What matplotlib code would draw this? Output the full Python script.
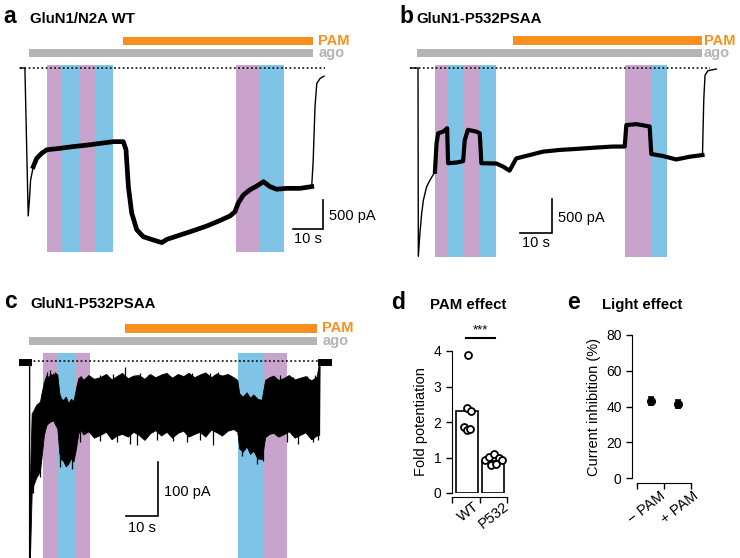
import matplotlib
matplotlib.use("Agg")
import matplotlib.pyplot as plt
import numpy as np

plt.rcParams['font.family'] = ['Liberation Sans', 'DejaVu Sans']

W, H = 740, 558

ORANGE = '#f7901e'
GRAY = '#b4b4b4'
PURPLE = '#c8a3cc'
BLUE = '#7fc3e6'

# ---- panel a: GluN1/N2A WT trace (time s, current pA)
a_t = [-2.3, -0.7, 0.4, 0.8, 1.2, 2.1, 3.2, 4.9, 6.6, 11, 15.4, 19.9, 24.3, 28.8, 32.1,
       33.0, 33.8, 34.9, 36.6, 38.8, 42.1, 44.9, 46.6, 51, 55.4, 59.9, 64.3, 67.7, 69.3,
       70.4, 72.1, 74.3, 76.6, 78.8, 81, 83.2, 86.6, 91, 94.9, 95.4, 96.0, 96.6, 97.7, 99]
a_i = [0, 0, -2550, -2280, -1930, -1700, -1560, -1470, -1410, -1385, -1355, -1330, -1300,
       -1270, -1270, -1410, -2050, -2500, -2790, -2910, -2965, -3010, -2955, -2880, -2805,
       -2725, -2630, -2550, -2480, -2330, -2190, -2100, -2035, -1960, -2045, -2090, -2075,
       -2075, -2045, -1590, -670, -265, -180, -140]
a_pam = (32, 95.3)
a_ago = (0.7, 95.3)
a_light = [(6.7, 11.7, 'p'), (11.7, 17.3, 'b'), (17.3, 23, 'p'), (23, 28.7, 'b'),
           (69.7, 77.7, 'p'), (77.7, 85.7, 'b')]

# ---- panel b: GluN1-P532PSAA trace
b_t = [-2.3, 0.0, 0.1, 0.6, 1.15, 1.7, 2.7, 3.8, 5.3, 5.8, 6.3, 7.9, 9.1, 9.4, 12, 14.1,
       14.6, 15.6, 18.2, 19.3, 19.8, 24.5, 26.6, 28.6, 30.7, 34.9, 39.1, 44.3, 49.5, 55.7,
       60.9, 64.6, 65.1, 68.2, 72.4, 72.9, 76.6, 80.7, 84.9, 88.9, 89.3, 89.7, 90.6, 93.2]
b_i = [0, 0, -2770, -2430, -2135, -1940, -1745, -1645, -1525, -1105, -960, -935, -885,
       -1400, -1390, -1370, -1060, -910, -935, -960, -1400, -1405, -1450, -1510, -1330,
       -1280, -1230, -1205, -1190, -1170, -1155, -1155, -840, -825, -860, -1265, -1295,
       -1345, -1305, -1280, -470, -105, -40, -15]
b_pam = (29.7, 88.75)
b_ago = (-0.3, 88.75)
b_light = [(5.3, 9.4, 'p'), (9.4, 14.1, 'b'), (14.1, 19.4, 'p'), (19.4, 24.4, 'b'),
           (64.7, 73.1, 'p'), (73.1, 77.8, 'b')]

# ---- panel c: GluN1-P532PSAA small current, noisy band (upper / lower envelope)
c_t = [0.2, 0.74, 1.26, 1.8, 2.3, 2.8, 3.34, 3.8, 4.17, 4.5, 4.9, 5.4, 5.94, 6.6, 7.5, 8.1,
       8.76, 9.38, 10.0, 10.6, 11.4, 12.2, 13.0, 13.8, 14.6, 15.3, 16.1, 16.9, 18.5, 20.2,
       22.1, 24.0, 25.7, 27.3, 29.0, 30.8, 32.5, 34.2, 36.0, 37.7, 39.4, 41.2, 42.9, 44.6,
       46.4, 48.1, 49.8, 51.6, 53.3, 55.0, 56.8, 58.5, 60.2, 62.0, 63.8, 65.0, 65.6, 66.7,
       67.9, 69.0, 70.0, 71.3, 72.6, 73.7, 75.0, 76.3, 77.8, 79.4, 81.1, 82.9, 84.6, 86.3,
       88.1, 89.8, 90.6]
c_hi = [-220, -97, -92, -85, -80, -78, -75, -60, -50, -40, -33, -26, -30, -24, -27, -22,
        -25, -60, -70, -72, -66, -78, -70, -74, -50, -32, -28, -35, -26, -33, -30, -24,
        -34, -28, -22, -32, -27, -26, -33, -24, -30, -25, -22, -31, -24, -28, -22, -30,
        -25, -21, -30, -23, -27, -24, -30, -35, -60, -66, -58, -68, -62, -70, -72, -35,
        -30, -27, -35, -32, -26, -34, -31, -28, -36, -29, -1]
c_lo = [-365, -245, -230, -222, -214, -210, -202, -180, -159, -140, -128, -118, -115, -112,
        -110, -118, -125, -171, -182, -185, -195, -190, -180, -186, -162, -134, -128, -136,
        -130, -142, -137, -131, -145, -138, -135, -140, -131, -137, -146, -134, -128, -138,
        -131, -142, -133, -129, -140, -135, -131, -140, -127, -132, -138, -129, -126, -131,
        -162, -168, -158, -172, -166, -180, -182, -141, -135, -133, -140, -136, -130, -142,
        -137, -132, -145, -138, -137]
# noise spikes sticking out of the band
c_up_t = [5.42, 6.46, 7.51, 8.03, 15.84, 18.44, 22.09, 26.25, 29.9, 34.6, 37.2, 41.9, 47.1,
          50.7, 54.9, 56.5, 59.1, 62.7, 75.2, 78.3, 82.5, 86.7, 89.3]
c_up_i = [-19.8, -16.7, -22.8, -19.8, -29, -30.2, -25.9, -24.1, -10.5, -22.8, -25.9, -24.1,
          -25.9, -22.8, -24.1, -22.8, -19.8, -25.9, -29, -25.9, -29, -27.8, -25.9]
c_dn_t = [1.26, 3.34, 9.59, 13.2, 15.84, 22.09, 27.3, 31.5, 33.5, 39.8, 45.0, 49.2, 53.3,
          57.5, 66.4, 71.05, 73.1, 80.4, 84.1, 88.8, 90.3]
c_dn_i = [-245, -214, -196, -200, -150, -149, -150, -153, -155, -147, -149, -150, -147,
          -155, -175, -190, -186, -150, -153, -150, -147]
c_pam = (29.9, 90.0)
c_ago = (-0.1, 90.0)
c_light = [(4.3, 9.0, 'p'), (9.0, 14.6, 'b'), (14.6, 19.0, 'p'),
           (65.2, 73.0, 'b'), (73.0, 80.5, 'p')]

# ---- panel d: PAM effect
d_groups = ['WT', 'P532']
d_means = [2.3, 0.9]
d_wt = [3.9, 2.4, 2.3, 1.85, 1.77, 1.8]
d_p532 = [0.92, 1.01, 1.09, 0.99, 0.92, 0.78, 0.83]
d_wt_x = [0.57, 0.53, 0.69, 0.44, 0.53, 0.65]
d_p532_x = [1.2, 1.36, 1.53, 1.72, 1.8, 1.41, 1.6]

# ---- panel e: Light effect
e_groups = ['\u2212 PAM', '+ PAM']
e_means = [43.2, 41.3]
e_err = [2.3, 2.3]


def px_axes(x0, y0, x1, y1):
    return fig.add_axes([x0 / W, 1 - y1 / H, (x1 - x0) / W, (y1 - y0) / H])


def title(xl, xt, y, letter, text):
    fig.text(xl / W, 1 - y / H, letter, fontsize=16.5, fontweight='bold', va='baseline')
    fig.text(xt / W, 1 - y / H, text, fontsize=10.8, fontweight='bold', va='baseline')


def trace_frame(ax, pam, ago, light, pam_y, ago_y, lab_dx, dash, shade):
    ax.axis('off')
    for t0, t1, c in light:
        ax.bar(t0, shade[1] - shade[0], width=t1 - t0, bottom=shade[0], align='edge',
               color=PURPLE if c == 'p' else BLUE, lw=0, zorder=0)
    ax.bar(pam[0], pam_y[1] - pam_y[0], width=pam[1] - pam[0], bottom=pam_y[0],
           align='edge', color=ORANGE, lw=0)
    ax.bar(ago[0], ago_y[1] - ago_y[0], width=ago[1] - ago[0], bottom=ago_y[0],
           align='edge', color=GRAY, lw=0)
    ax.text(pam[1] + lab_dx, (pam_y[0] + pam_y[1]) / 2, 'PAM', color=ORANGE, fontsize=10.5,
            fontweight='bold', va='center')
    ax.text(ago[1] + lab_dx, (ago_y[0] + ago_y[1]) / 2, 'ago', color=GRAY, fontsize=10.5,
            fontweight='bold', va='center')
    ax.plot(dash, [0, 0], color='black', lw=1.1, ls=(0, (1.2, 1.6)), zorder=5)


def scalebar(ax, x, y, dx, dy, ylab, fs=10.5):
    ax.plot([x - dx, x, x], [y, y, y + dy], color='black', lw=1.2, solid_joinstyle='miter')
    ax.text(x + dx * 0.2, y + dy * 0.45, ylab, fontsize=fs, va='center', ha='left')
    ax.text(x - dx / 2, y - dy * 0.1, '10 s', fontsize=fs, va='top', ha='center')


def group_labels(ax, xs, y, labels):
    for x, lab in zip(xs, labels):
        ax.text(x, y, lab, transform=ax.get_xaxis_transform(), rotation=38, ha='right',
                va='top', rotation_mode='anchor', fontsize=10.5, clip_on=False)


fig = plt.figure(figsize=(W / 100, H / 100), dpi=100)

# ---------------- panel a
ax = px_axes(0, 0, 370, 280)
ax.set_xlim(-9, (370 - 27) / 3)
ax.set_ylim(-(280 - 68) * 500 / 29, 68 * 500 / 29)
trace_frame(ax, a_pam, a_ago, a_light, (397, 535), (190, 328), 1.8, (-2.3, 99.3),
            (-3172, 52))
t = np.array(a_t)
i = np.array(a_i)
ax.plot(t, i, color='black', lw=1.0, zorder=3)
m = (t > 1.5) & (t < 95.2)
ax.plot(t[m], i[m], color='black', lw=3.4, zorder=3)
scalebar(ax, 98.7, -2776, 10, 500, '500 pA')
title(3, 30, 23, 'a', 'GluN1/N2A WT')

# ---------------- panel b
ax = px_axes(370, 0, 740, 280)
s = 500 / 34
ax.set_xlim((370 - 418) / 3.2, (740 - 418) / 3.2)
ax.set_ylim(-(280 - 68) * s, 68 * s)
trace_frame(ax, b_pam, b_ago, b_light, (338, 470), (162, 279), 0.6, (-2.5, 91.3),
            (-2779, 44))
t = np.array(b_t)
i = np.array(b_i)
ax.plot(t, i, color='black', lw=1.0, zorder=3)
m = (t > 4.8) & (t < 89.0)
ax.plot(t[m], i[m], color='black', lw=3.0, zorder=3)
scalebar(ax, 41.8, -2426, 10, 500, '500 pA')
title(399, 416, 23, 'b', 'GluN1-P532PSAA')

# ---------------- panel c
ax = px_axes(0, 280, 370, 558)
s = 100 / 54
ax.set_xlim(-29.3 / 3.2, (370 - 29.3) / 3.2)
ax.set_ylim(-(558 - 361) * s, (361 - 280) * s)
trace_frame(ax, c_pam, c_ago, c_light, (52, 68.5), (29.6, 44.4), 1.6, (-1.3, 92.4),
            (-380, 14.8))
ax.fill_between(c_t, c_lo, c_hi, color='black', lw=0.6, edgecolor='black', zorder=3)
ax.vlines(c_up_t, c_up_i, -60, color='black', lw=0.9, zorder=3)
ax.vlines(c_dn_t, -100, c_dn_i, color='black', lw=0.9, zorder=3)
ax.plot([0.1, 0.1, 0.3], [0, -380, -220], color='black', lw=1.0, zorder=3)
ax.plot([-2.3, -0.3], [-1, -1], color='black', lw=5, zorder=3)
ax.plot([90.6, 90.8, 93.6], [-137, 0, 0], color='black', lw=1.0, zorder=3)
ax.plot([91.0, 93.4], [-1, -1], color='black', lw=5, zorder=3)
scalebar(ax, 40.2, -287, 10, 100, '100 pA')
title(4, 30, 308, 'c', 'GluN1-P532PSAA')

# ---------------- panel d
ax = px_axes(452, 351, 507, 493)
ax.bar([0.53, 1.5], d_means, width=0.8, facecolor='white', edgecolor='black', lw=1.2)
ax.plot(d_wt_x, d_wt, 'o', mfc='white', mec='black', ms=5, mew=1.3, clip_on=False)
ax.plot(d_p532_x, d_p532, 'o', mfc='white', mec='black', ms=5, mew=1.3, clip_on=False)
ax.set_xlim(0, 2)
ax.set_ylim(0, 4)
ax.set_yticks([0, 1, 2, 3, 4])
ax.set_xticks([0, 1, 2])
ax.set_xticklabels([])
ax.tick_params(axis='both', which='major', length=4, width=1, labelsize=10)
ax.spines[['top', 'right']].set_visible(False)
ax.spines['bottom'].set_position(('outward', 3))
ax.set_ylabel('Fold potentiation', fontsize=10.5, labelpad=4)
group_labels(ax, [0.76, 1.85], -0.045, d_groups)
ax.plot([0.51, 1.56], [4.37, 4.37], color='black', lw=1.5, clip_on=False)
ax.text(1.03, 4.4, '***', ha='center', va='bottom', fontsize=9.5)
title(391, 430, 309, 'd', 'PAM effect')

# ---------------- panel e
ax = px_axes(637, 335, 691, 478)
ax.errorbar([0.5, 1.5], e_means, yerr=e_err, fmt='o', color='black', ms=5.5, capsize=2,
            elinewidth=1.2, capthick=1.2)
ax.set_xlim(0, 2)
ax.set_ylim(0, 80)
ax.set_yticks([0, 20, 40, 60, 80])
ax.set_xticks([0, 1, 2])
ax.set_xticklabels([])
ax.tick_params(axis='both', which='major', length=4, width=1, labelsize=10)
ax.spines[['top', 'right']].set_visible(False)
ax.spines['bottom'].set_position(('outward', 3.5))
ax.spines['left'].set_position(('outward', 3.5))
ax.set_ylabel('Current inhibition (%)', fontsize=10.5, labelpad=4)
group_labels(ax, [0.81, 2.07], -0.075, e_groups)
title(567, 602, 309, 'e', 'Light effect')

fig.savefig('out.png', dpi=100)
